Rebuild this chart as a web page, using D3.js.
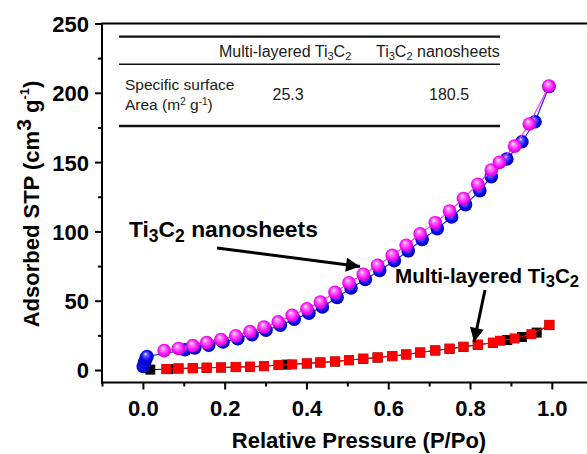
<!DOCTYPE html>
<html>
<head>
<meta charset="utf-8">
<script src="https://cdn.jsdelivr.net/npm/d3@7/dist/d3.min.js"></script>
<style>
  html, body { margin: 0; padding: 0; background: #fff; }
  svg { display: block; }
  text { font-family: "Liberation Sans", Arial, Helvetica, sans-serif; }
</style>
</head>
<body>
<div id="chart"></div>
<script>
// N2 adsorption / desorption isotherms
// Ti3C2 nanosheets – adsorption branch (blue spheres)
const nanoAdsX = [0.001, 0.004, 0.007, 0.010, 0.103, 0.127, 0.161, 0.196, 0.232, 0.267, 0.301, 0.336, 0.370, 0.406, 0.439, 0.475, 0.509, 0.544, 0.579, 0.615, 0.649, 0.683, 0.720, 0.755, 0.789, 0.824, 0.852, 0.890, 0.927, 0.959, 0.993];
const nanoAdsY = [2.5, 5.5, 8.0, 9.8, 14.6, 16.0, 18.0, 20.2, 22.6, 25.5, 28.7, 32.3, 36.6, 41.0, 45.5, 52.3, 59.2, 65.3, 71.8, 78.8, 86.0, 94.2, 102.0, 110.4, 119.3, 129.4, 139.5, 152.2, 164.7, 179.1, 204.5];
// Ti3C2 nanosheets – desorption branch (magenta spheres)
const nanoDesX = [0.052, 0.087, 0.122, 0.156, 0.191, 0.227, 0.262, 0.296, 0.331, 0.365, 0.401, 0.434, 0.470, 0.504, 0.539, 0.574, 0.610, 0.644, 0.678, 0.715, 0.750, 0.784, 0.819, 0.852, 0.872, 0.909, 0.945, 0.993];
const nanoDesY = [14.0, 15.5, 17.6, 19.8, 22.0, 24.7, 27.7, 31.0, 34.8, 39.5, 44.2, 49.0, 56.0, 63.0, 69.0, 75.5, 82.8, 90.0, 98.3, 106.3, 114.7, 123.7, 134.0, 144.3, 149.8, 161.5, 177.5, 204.9];
// Multi-layered Ti3C2 – adsorption branch (black squares)
const multiAdsX = [0.018, 0.062, 0.087, 0.122, 0.156, 0.191, 0.227, 0.262, 0.296, 0.351, 0.401, 0.434, 0.470, 0.504, 0.539, 0.574, 0.610, 0.644, 0.678, 0.715, 0.750, 0.784, 0.819, 0.856, 0.891, 0.927, 0.963, 0.994];
const multiAdsY = [0.3, 0.7, 1.1, 1.3, 1.6, 1.8, 2.1, 2.3, 2.8, 3.9, 4.7, 5.4, 6.1, 7.1, 8.1, 9.0, 10.0, 11.2, 12.6, 14.1, 15.3, 16.7, 18.2, 19.6, 21.6, 23.8, 27.0, 32.4];
// Multi-layered Ti3C2 – desorption branch (red squares)
const multiDesX = [0.057, 0.087, 0.122, 0.156, 0.191, 0.227, 0.262, 0.296, 0.331, 0.365, 0.401, 0.434, 0.470, 0.504, 0.539, 0.574, 0.610, 0.644, 0.678, 0.715, 0.750, 0.784, 0.819, 0.856, 0.873, 0.909, 0.950, 0.994];
const multiDesY = [0.7, 1.2, 1.4, 1.7, 1.9, 2.2, 2.4, 2.9, 3.6, 4.1, 4.8, 5.5, 6.2, 7.2, 8.2, 9.1, 10.1, 11.3, 12.7, 14.2, 15.4, 16.8, 18.3, 19.7, 21.1, 22.8, 25.9, 32.6];

// Axis ticks
const xTicks = [0.0, 0.2, 0.4, 0.6, 0.8, 1.0];
const xMinorTicks = [-0.1, 0.1, 0.3, 0.5, 0.7, 0.9, 1.1];
const yTicks = [0, 50, 100, 150, 200, 250];
const yMinorTicks = [25, 75, 125, 175, 225];

// Inset table values
const surfaceArea = [25.3, 180.5];

const W = 587, H = 454;
const svg = d3.select("#chart").append("svg").attr("width", W).attr("height", H);

const x = d3.scaleLinear().domain([-0.1, 1.1]).range([102, 592.7]);
const y = d3.scaleLinear().domain([-9, 250]).range([382.5, 23.5]);

const defs = svg.append("defs");
function sphere(id, light, mid, dark) {
  const g = defs.append("radialGradient").attr("id", id)
    .attr("cx", "50%").attr("cy", "50%").attr("r", "55%")
    .attr("fx", "38%").attr("fy", "30%");
  g.append("stop").attr("offset", "0%").attr("stop-color", "#ffffff");
  g.append("stop").attr("offset", "22%").attr("stop-color", light);
  g.append("stop").attr("offset", "65%").attr("stop-color", mid);
  g.append("stop").attr("offset", "100%").attr("stop-color", dark);
}
sphere("ballBlue", "#6a6aff", "#0a0af0", "#0000a0");
sphere("ballMag", "#ff8cff", "#ff14ff", "#b000b0");
defs.append("marker").attr("id", "arrowHead")
  .attr("viewBox", "0 0 10 10").attr("refX", 10).attr("refY", 5)
  .attr("markerUnits", "userSpaceOnUse")
  .attr("markerWidth", 20).attr("markerHeight", 14)
  .attr("orient", "auto")
  .append("path").attr("d", "M0,0 L10,5 L0,10 Z").attr("fill", "#000");

const zip = (xs, ys) => xs.map((v, i) => [v, ys[i]]);
const line = d3.line().x(d => x(d[0])).y(d => y(d[1]));

const plot = svg.append("g");

function squares(data, color) {
  plot.append("path").attr("d", line(data)).attr("fill", "none")
    .attr("stroke", color).attr("stroke-width", 1);
  plot.selectAll(null).data(data).enter().append("rect")
    .attr("x", d => x(d[0]) - 5).attr("y", d => y(d[1]) - 5)
    .attr("width", 10).attr("height", 10).attr("fill", color);
}
function balls(data, color, grad) {
  plot.append("path").attr("d", line(data)).attr("fill", "none")
    .attr("stroke", color).attr("stroke-width", 1.2);
  plot.selectAll(null).data(data).enter().append("circle")
    .attr("cx", d => x(d[0])).attr("cy", d => y(d[1])).attr("r", 6.8)
    .attr("fill", `url(#${grad})`);
}

squares(zip(multiAdsX, multiAdsY), "#000000");
squares(zip(multiDesX, multiDesY), "#ff0000");
balls(zip(nanoAdsX, nanoAdsY), "#2020ff", "ballBlue");
balls(zip(nanoDesX, nanoDesY), "#ff30ff", "ballMag");

// Axes frame
const axes = svg.append("g").attr("stroke", "#000").attr("stroke-width", 2);
axes.append("line").attr("x1", x(-0.1)).attr("x2", x(-0.1)).attr("y1", y(250)).attr("y2", y(-9) + 1);
axes.append("line").attr("x1", x(-0.1) - 1).attr("x2", x(1.1)).attr("y1", y(-9)).attr("y2", y(-9));
axes.append("line").attr("x1", x(-0.1) - 1).attr("x2", x(1.1)).attr("y1", y(250)).attr("y2", y(250));

const xAxis = svg.append("g").attr("transform", `translate(0,${y(-9)})`)
  .call(d3.axisBottom(x).tickValues(xTicks).tickSize(7).tickFormat(d3.format(".1f")));
const xMinor = svg.append("g").attr("transform", `translate(0,${y(-9)})`)
  .call(d3.axisBottom(x).tickValues(xMinorTicks).tickSize(4).tickFormat(""));
const yAxis = svg.append("g").attr("transform", `translate(${x(-0.1)},0)`)
  .call(d3.axisLeft(y).tickValues(yTicks).tickSize(7));
const yMinor = svg.append("g").attr("transform", `translate(${x(-0.1)},0)`)
  .call(d3.axisLeft(y).tickValues(yMinorTicks).tickSize(4).tickFormat(""));
[xAxis, xMinor, yAxis, yMinor].forEach(a => {
  a.select(".domain").remove();
  a.selectAll(".tick line").attr("stroke", "#000").attr("stroke-width", 2);
  a.selectAll(".tick text").attr("fill", "#000")
    .style("font-family", '"Liberation Sans", Arial, sans-serif')
    .style("font-weight", "bold").style("font-size", "22px");
});
xAxis.selectAll(".tick text").attr("dy", "0").attr("y", 33);
yAxis.selectAll(".tick text").attr("x", -13).attr("dy", "0.36em");

// Axis titles
svg.append("text").attr("x", 359).attr("y", 448).attr("text-anchor", "middle")
  .style("font-weight", "bold").style("font-size", "22px").text("Relative Pressure (P/Po)");

const yt = svg.append("text").attr("transform", "translate(39,204) rotate(-90)")
  .attr("text-anchor", "middle").style("font-weight", "bold").style("font-size", "22px");
yt.append("tspan").text("Adsorbed STP (cm");
yt.append("tspan").attr("dy", -8).style("font-size", "21px").text("3");
yt.append("tspan").attr("dy", 8).text(" g");
yt.append("tspan").attr("dy", -10).style("font-size", "13px").text("-1");
yt.append("tspan").attr("dy", 10).text(")");

// Inset table
const tbl = svg.append("g").attr("fill", "#1a1a1a");
tbl.append("line").attr("x1", 119).attr("x2", 500).attr("y1", 36.7).attr("y2", 36.7).attr("stroke", "#111").attr("stroke-width", 2.2);
tbl.append("line").attr("x1", 119).attr("x2", 500).attr("y1", 64.3).attr("y2", 64.3).attr("stroke", "#111").attr("stroke-width", 1.6);
tbl.append("line").attr("x1", 119).attr("x2", 500).attr("y1", 126).attr("y2", 126).attr("stroke", "#111").attr("stroke-width", 2.4);

// Chemical formula text with subscripts; the baseline is restored on the next run of text
function chem(sel, parts, size, subSize, shift) {
  let offset = 0;
  parts.forEach(p => {
    const t = sel.append("tspan").text(p.t);
    if (p.sub) {
      t.attr("dy", shift - offset).style("font-size", subSize + "px");
      offset = shift;
    } else {
      t.attr("dy", -offset).style("font-size", size + "px");
      offset = 0;
    }
  });
}
const headMulti = tbl.append("text").attr("x", 219).attr("y", 56.5);
chem(headMulti, [{t: "Multi-layered Ti"}, {t: "3", sub: true}, {t: "C"}, {t: "2", sub: true}], 16, 11, 3);
const headNano = tbl.append("text").attr("x", 376).attr("y", 56.5);
chem(headNano, [{t: "Ti"}, {t: "3", sub: true}, {t: "C"}, {t: "2", sub: true}, {t: " nanosheets"}], 16, 11, 3);

tbl.append("text").attr("x", 125).attr("y", 90).style("font-size", "15.5px").text("Specific surface");
const areaLbl = tbl.append("text").attr("x", 125).attr("y", 110).style("font-size", "15.5px");
areaLbl.append("tspan").text("Area (m");
areaLbl.append("tspan").attr("dy", -5).style("font-size", "10px").text("2");
areaLbl.append("tspan").attr("dy", 5).text(" g");
areaLbl.append("tspan").attr("dy", -5).style("font-size", "10px").text("-1");
areaLbl.append("tspan").attr("dy", 5).text(")");

const valueX = [272.5, 429];
tbl.selectAll(null).data(surfaceArea).enter().append("text")
  .attr("x", (d, i) => valueX[i]).attr("y", 100).style("font-size", "16px")
  .text(d => d3.format(".1f")(d));

// Annotations
const ann1 = svg.append("text").attr("x", 129).attr("y", 237).style("font-weight", "bold");
chem(ann1, [{t: "Ti"}, {t: "3", sub: true}, {t: "C"}, {t: "2", sub: true}, {t: " nanosheets"}], 22.8, 17.5, 5);
svg.append("line").attr("x1", 217).attr("y1", 248).attr("x2", 360).attr("y2", 266.5)
  .attr("stroke", "#000").attr("stroke-width", 3).attr("marker-end", "url(#arrowHead)");

const ann2 = svg.append("text").attr("x", 395).attr("y", 283).style("font-weight", "bold");
chem(ann2, [{t: "Multi-layered Ti"}, {t: "3", sub: true}, {t: "C"}, {t: "2", sub: true}], 20.6, 16.5, 4);
svg.append("line").attr("x1", 485).attr("y1", 290).attr("x2", 474).attr("y2", 342)
  .attr("stroke", "#000").attr("stroke-width", 3).attr("marker-end", "url(#arrowHead)");
</script>
</body>
</html>
